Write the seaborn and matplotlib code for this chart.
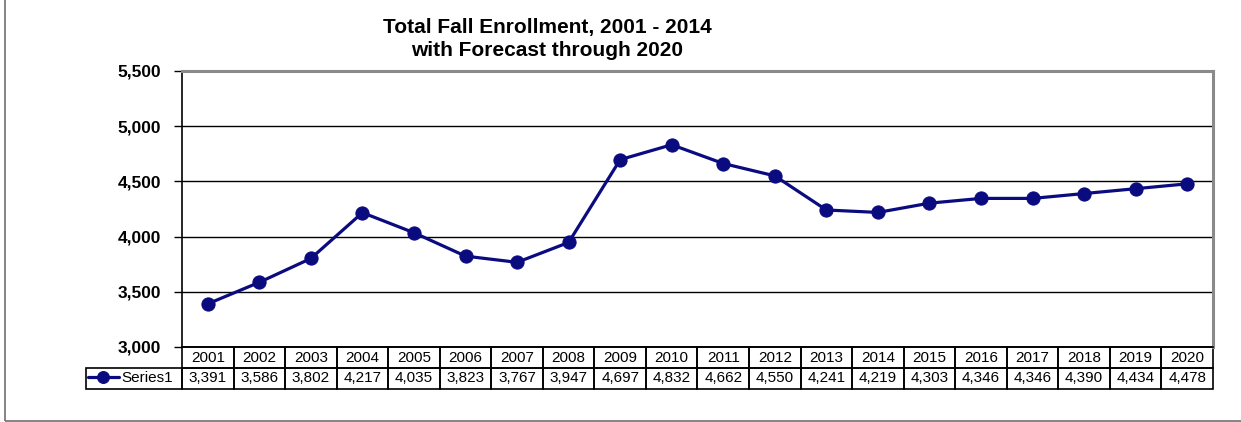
import matplotlib
matplotlib.use("Agg")
import matplotlib.pyplot as plt
from matplotlib.patches import Rectangle
from matplotlib.ticker import FuncFormatter, MultipleLocator
import seaborn as sns
import pandas as pd

years = [2001, 2002, 2003, 2004, 2005, 2006, 2007, 2008, 2009, 2010,
         2011, 2012, 2013, 2014, 2015, 2016, 2017, 2018, 2019, 2020]
enrollment = [3391, 3586, 3802, 4217, 4035, 3823, 3767, 3947, 4697, 4832,
              4662, 4550, 4241, 4219, 4303, 4346, 4346, 4390, 4434, 4478]
series_name = "Series1"
title_lines = ["Total Fall Enrollment, 2001 - 2014", "with Forecast through 2020"]

sns.set_theme(style="white")
plt.rcParams["font.family"] = ["Liberation Sans", "DejaVu Sans"]
plt.rcParams["text.color"] = "black"
plt.rcParams["ytick.color"] = "black"

W, H = 1241, 422
fig = plt.figure(figsize=(W / 100, H / 100), dpi=100)

# plot area in pixel terms
left, right, top, bottom = 182, 1213, 71, 347
ax = fig.add_axes([left / W, 1 - bottom / H, (right - left) / W, (bottom - top) / H])

df = pd.DataFrame({"pos": range(len(years)), "value": enrollment})
navy = "#0b0b80"
sns.lineplot(data=df, x="pos", y="value", ax=ax, color=navy, lw=2.3,
             marker="o", markersize=9.5, markeredgecolor=navy, label=series_name)

ax.set_xlim(-0.5, len(years) - 0.5)
ax.set_ylim(3000, 5500)
ax.yaxis.set_major_locator(MultipleLocator(500))
ax.yaxis.set_major_formatter(FuncFormatter(lambda v, p: f"{int(v):,}"))
ax.set_xticks([])
ax.set_xlabel("")
ax.set_ylabel("")
ax.grid(axis="y", color="black", lw=1)
ax.tick_params(axis="y", which="major", left=True, length=6, width=1, color="black",
               labelsize=12.5, pad=9, labelcolor="black")
for lab in ax.get_yticklabels():
    lab.set_fontweight("bold")

for s in ["left", "bottom"]:
    ax.spines[s].set_color("black")
    ax.spines[s].set_linewidth(1.2)
for s in ["top", "right"]:
    ax.spines[s].set_color("#8a8a8a")
    ax.spines[s].set_linewidth(2.2)

# data table under the plot
ax_w = right - left
ax_h = bottom - top
label_w = 96
row_h = 21
col_w = ax_w / len(years)
cell_text = [[""] + [str(y) for y in years],
             [""] + [f"{v:,}" for v in enrollment]]
widths = [label_w] + [col_w] * len(years)
tot = sum(widths)
tbl = ax.table(cellText=cell_text, colWidths=[w / tot for w in widths],
               cellLoc="center",
               bbox=[-label_w / ax_w, -2 * row_h / ax_h, tot / ax_w, 2 * row_h / ax_h])
tbl.auto_set_font_size(False)
tbl.set_fontsize(11)
for (r, c), cell in tbl.get_celld().items():
    cell.set_edgecolor("black")
    cell.set_linewidth(1.2)
    cell.set_facecolor("none")
    cell.get_text().set_color("black")
tbl[0, 0].visible_edges = ""

# legend key inside the row-label cell
leg = ax.legend(loc="center left",
                bbox_to_anchor=(-(label_w - 2) / ax_w, -1.5 * row_h / ax_h),
                frameon=False, fontsize=11, handlelength=2.0, handletextpad=0.2,
                borderpad=0, borderaxespad=0, markerscale=0.9)

# title
fig.text(547 / W, 1 - 27 / H, title_lines[0], ha="center", va="center",
         fontsize=15, fontweight="bold")
fig.text(547 / W, 1 - 50 / H, title_lines[1], ha="center", va="center",
         fontsize=15, fontweight="bold")

# chart-area frame
fig.patches.append(Rectangle((4.5 / W, 1.5 / H), 2, 2, transform=fig.transFigure,
                             fill=False, edgecolor="#707070", lw=1.2))

fig.savefig("out.png", dpi=100, facecolor="white")
